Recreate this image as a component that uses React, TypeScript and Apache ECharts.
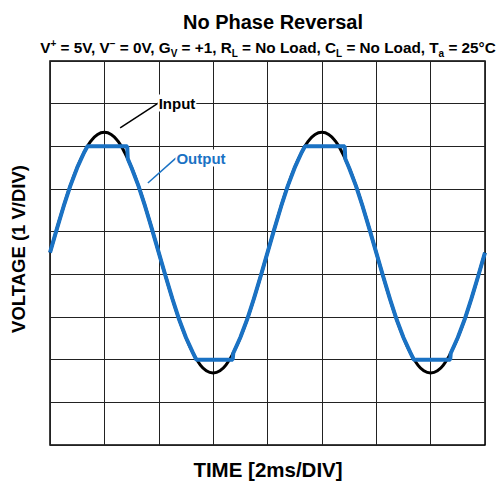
import React, { useEffect, useRef } from "react";
import * as echarts from "echarts";

// Time axis in divisions (2 ms/DIV)
const timeDiv = [
  0, 0.125, 0.25, 0.375, 0.5, 0.625, 0.75, 0.875, 1, 1.125, 1.25, 1.375, 1.5, 1.625, 1.75, 1.875,
  2, 2.125, 2.25, 2.375, 2.5, 2.625, 2.75, 2.875, 3, 3.125, 3.25, 3.375, 3.5, 3.625, 3.75, 3.875,
  4, 4.125, 4.25, 4.375, 4.5, 4.625, 4.75, 4.875, 5, 5.125, 5.25, 5.375, 5.5, 5.625, 5.75, 5.875,
  6, 6.125, 6.25, 6.375, 6.5, 6.625, 6.75, 6.875, 7, 7.125, 7.25, 7.375, 7.5, 7.625, 7.75, 7.875, 8,
];
// Input voltage (divisions from bottom of screen)
const inputV = [
  4.51, 5.06, 5.59, 6.08, 6.5, 6.85, 7.12, 7.28, 7.33, 7.28, 7.12, 6.85, 6.5, 6.08, 5.59, 5.06,
  4.51, 3.96, 3.43, 2.94, 2.52, 2.17, 1.9, 1.74, 1.69, 1.74, 1.9, 2.17, 2.52, 2.94, 3.43, 3.96,
  4.51, 5.06, 5.59, 6.08, 6.5, 6.85, 7.12, 7.28, 7.33, 7.28, 7.12, 6.85, 6.5, 6.08, 5.59, 5.06,
  4.51, 3.96, 3.43, 2.94, 2.52, 2.17, 1.9, 1.74, 1.69, 1.74, 1.9, 2.17, 2.52, 2.94, 3.43, 3.96, 4.51,
];
// Output (clipped at the rails)
const outputT = [
  0, 0.125, 0.25, 0.375, 0.5, 0.625, 0.69, 1.42, 1.43,
  1.5, 1.625, 1.75, 1.875, 2, 2.125, 2.25, 2.375, 2.5, 2.625,
  2.69, 3.36, 3.37,
  3.5, 3.625, 3.75, 3.875, 4,
  4.125, 4.25, 4.375, 4.5, 4.625, 4.69, 5.42, 5.43,
  5.5, 5.625, 5.75, 5.875, 6, 6.125, 6.25, 6.375, 6.5, 6.625,
  6.69, 7.36, 7.37,
  7.5, 7.625, 7.75, 7.875, 8,
];
const outputV = [
  4.51, 5.06, 5.59, 6.08, 6.5, 6.85, 7.0, 7.0, 6.71,
  6.5, 6.08, 5.59, 5.06, 4.51, 3.96, 3.43, 2.94, 2.52, 2.17,
  2.0, 2.0, 2.15,
  2.52, 2.94, 3.43, 3.96, 4.51,
  5.06, 5.59, 6.08, 6.5, 6.85, 7.0, 7.0, 6.71,
  6.5, 6.08, 5.59, 5.06, 4.51, 3.96, 3.43, 2.94, 2.52, 2.17,
  2.0, 2.0, 2.15,
  2.52, 2.94, 3.43, 3.96, 4.51,
];

const xDivs = 8;
const yDivs = 9;
const BLUE = "#1a72c4";
const FONT = "Liberation Sans, Arial, sans-serif";

export default function App() {
  const ref = useRef<HTMLDivElement>(null);
  useEffect(() => {
    if (!ref.current) return;
    const chart = echarts.init(ref.current, null, { renderer: "svg" });
    const inputData = timeDiv.map((t, i) => [t, inputV[i]]);
    const outputData = outputT.map((t, i) => [t, outputV[i]]);
    chart.setOption({
      animation: false,
      backgroundColor: "#fff",
      textStyle: { fontFamily: FONT },
      title: {
        text: "No Phase Reversal",
        left: 268,
        top: 7,
        textAlign: "center",
        textStyle: { fontSize: 20, fontWeight: "bold", color: "#000", fontFamily: FONT },
      },
      grid: {
        left: 50,
        right: 14,
        top: 61,
        bottom: 37,
        show: true,
        borderColor: "#000",
        borderWidth: 1.5,
        backgroundColor: "transparent",
      },
      xAxis: {
        type: "value",
        min: 0,
        max: xDivs,
        interval: 1,
        axisLabel: { show: false },
        axisTick: { show: false },
        axisLine: { show: false },
        splitLine: { show: true, lineStyle: { color: "#222", width: 1 } },
      },
      yAxis: {
        type: "value",
        min: 0,
        max: yDivs,
        interval: 1,
        axisLabel: { show: false },
        axisTick: { show: false },
        axisLine: { show: false },
        splitLine: { show: true, lineStyle: { color: "#222", width: 1 } },
      },
      series: [
        {
          name: "Input",
          type: "line",
          data: inputData,
          smooth: true,
          showSymbol: false,
          symbol: "none",
          clip: false,
          lineStyle: { color: "#000", width: 3 },
          z: 3,
          markLine: {
            silent: true,
            symbol: ["none", "arrow"],
            symbolSize: [0, 9],
            label: { show: false },
            lineStyle: { color: "#000", width: 1.5, type: "solid" },
            data: [[{ coord: [1.99, 8.01] }, { coord: [1.29, 7.43] }]],
          },
        },
        {
          name: "Output",
          type: "line",
          data: outputData,
          showSymbol: false,
          symbol: "none",
          clip: false,
          lineStyle: { color: BLUE, width: 4 },
          z: 4,
          markLine: {
            silent: true,
            symbol: ["none", "arrow"],
            symbolSize: [0, 9],
            label: { show: false },
            lineStyle: { color: BLUE, width: 1.5, type: "solid" },
            data: [[{ coord: [2.32, 6.73] }, { coord: [1.8, 6.14] }]],
          },
        },
      ],
      graphic: [
        {
          type: "text",
          x: 268,
          y: 47,
          z: 10,
          style: {
            text:
              "V{p|+} = 5V, V{p|−} = 0V, G{s|V} = +1, R{s|L} = No Load, C{s|L} = No Load, T{s|a} = 25°C",
            align: "center",
            verticalAlign: "middle",
            fontSize: 15.3,
            fontWeight: "bold",
            fontFamily: FONT,
            fill: "#000",
            lineHeight: 17,
            rich: {
              s: { fontSize: 10, fontWeight: "bold", fontFamily: FONT, verticalAlign: "bottom", lineHeight: 10, padding: [0, 0, -3, 0] },
              p: { fontSize: 10, fontWeight: "bold", fontFamily: FONT, verticalAlign: "top", lineHeight: 10 },
            },
          },
        },
        {
          type: "text",
          x: 177,
          y: 103,
          z: 10,
          style: {
            text: "Input",
            align: "center",
            verticalAlign: "middle",
            fontSize: 15,
            fontWeight: "bold",
            fontFamily: FONT,
            fill: "#000",
            backgroundColor: "#fff",
            padding: [1, 1],
          },
        },
        {
          type: "text",
          x: 201,
          y: 158,
          z: 10,
          style: {
            text: "Output",
            align: "center",
            verticalAlign: "middle",
            fontSize: 15,
            fontWeight: "bold",
            fontFamily: FONT,
            fill: BLUE,
            backgroundColor: "#fff",
            padding: [1, 1],
          },
        },
        {
          type: "text",
          x: 18,
          y: 249,
          rotation: Math.PI / 2,
          style: {
            text: "VOLTAGE (1 V/DIV)",
            align: "center",
            verticalAlign: "middle",
            fontSize: 18.5,
            fontWeight: "bold",
            fontFamily: FONT,
            fill: "#000",
          },
        },
        {
          type: "text",
          x: 268,
          y: 469,
          style: {
            text: "TIME [2ms/DIV]",
            align: "center",
            verticalAlign: "middle",
            fontSize: 20.5,
            fontWeight: "bold",
            fontFamily: FONT,
            fill: "#000",
          },
        },
      ],
    });
    return () => chart.dispose();
  }, []);
  return (
    <div
      ref={ref}
      style={{ position: "fixed", left: 0, top: 0, width: 499, height: 482 }}
    />
  );
}
